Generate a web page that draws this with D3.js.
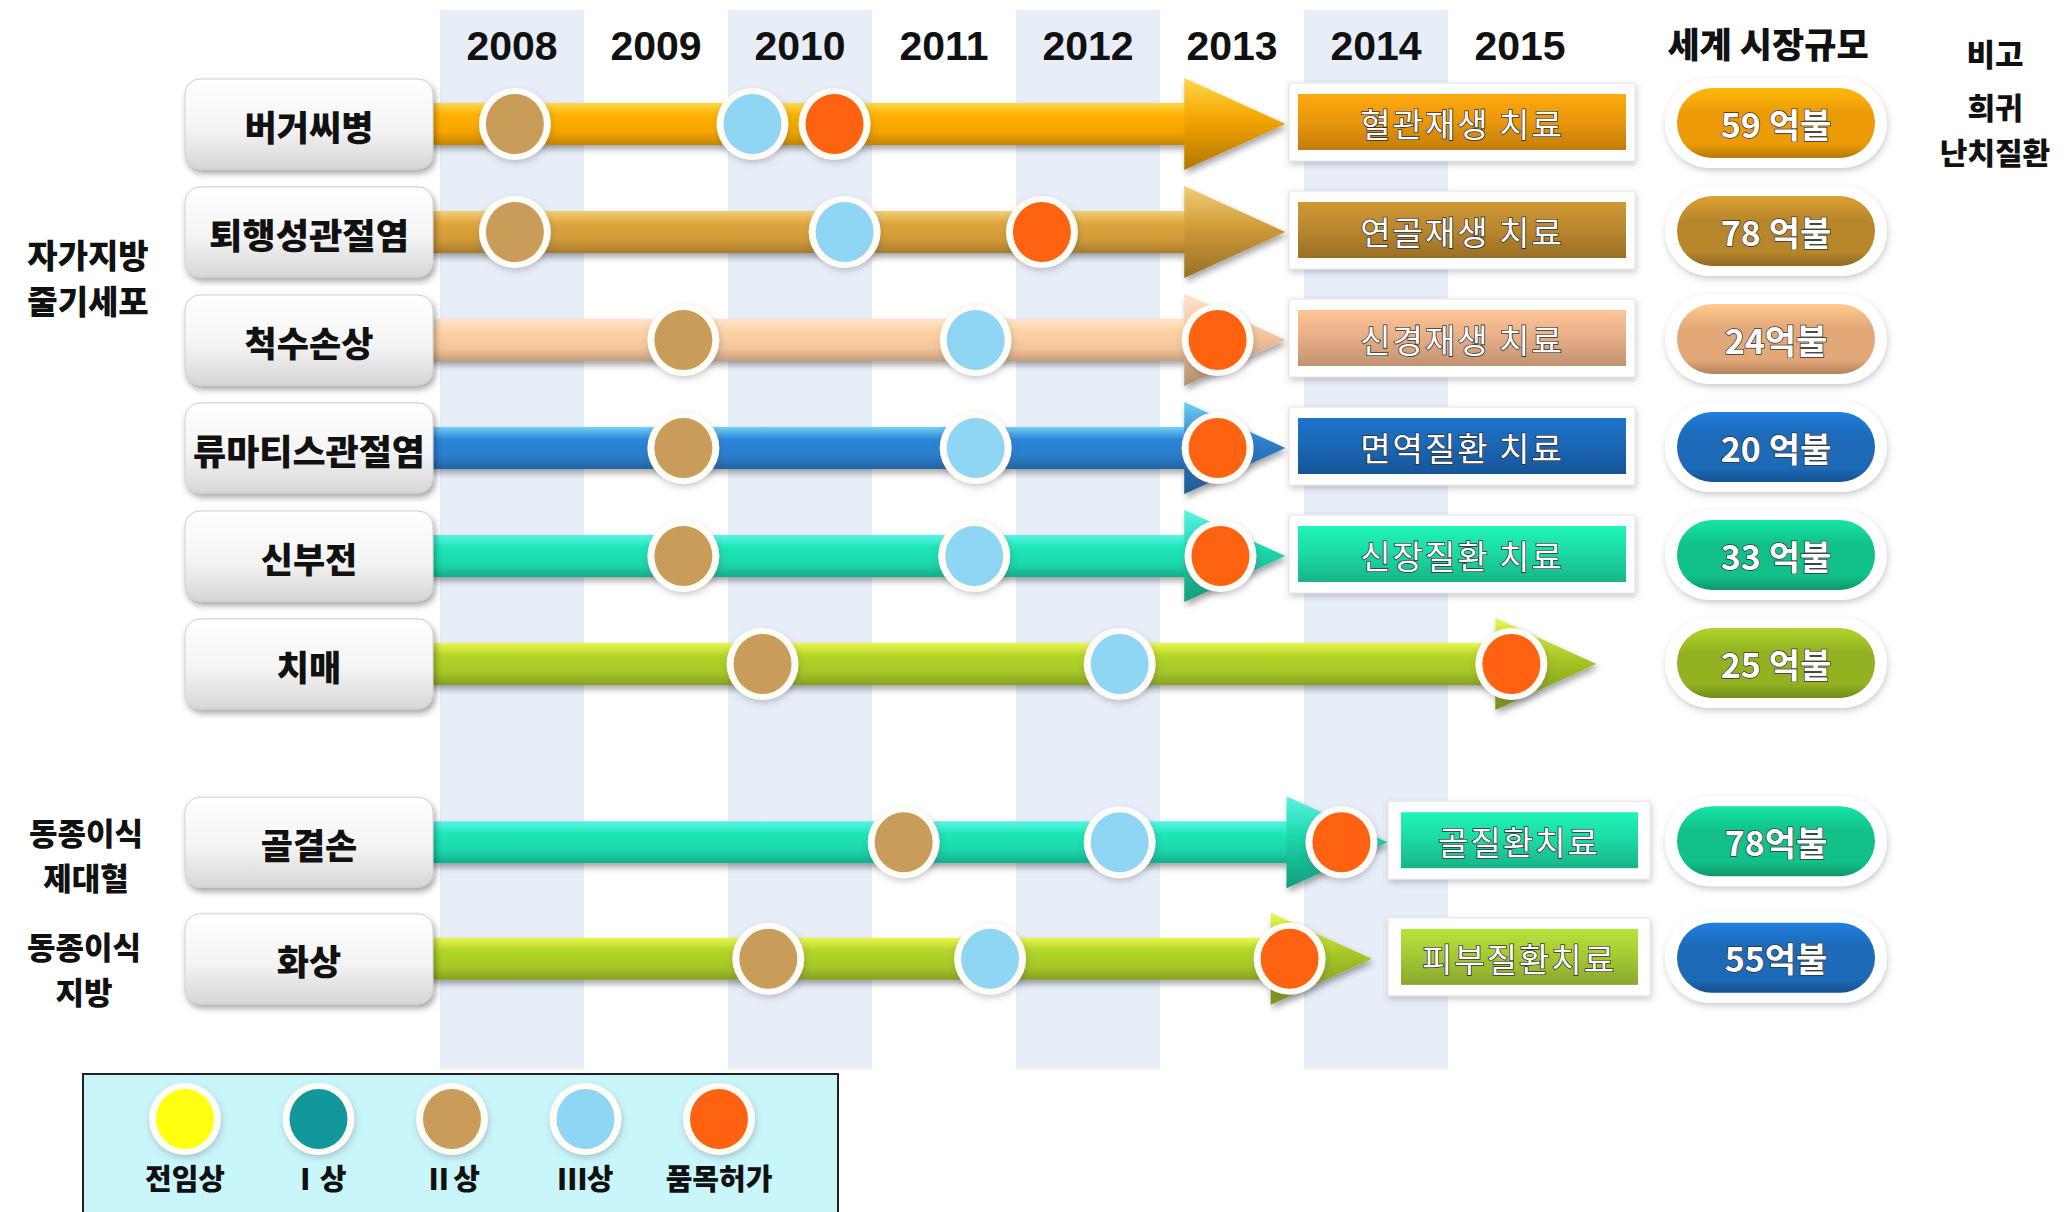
<!DOCTYPE html>
<html><head><meta charset="utf-8">
<script src="https://cdn.jsdelivr.net/npm/d3@7"></script>
<style>html,body{margin:0;padding:0;background:#fff;} svg{display:block}</style>
</head><body>
<svg id="chart" width="2069" height="1212"></svg>
<script>
// ---------------- DATA ----------------
const years = [2008, 2009, 2010, 2011, 2012, 2013, 2014, 2015];
const diseases = ['버거씨병', '퇴행성관절염', '척수손상', '류마티스관절염', '신부전', '치매', '골결손', '화상'];
const phase2 = [2008.52, 2008.52, 2009.69, 2009.69, 2009.69, 2010.24, 2011.22, 2010.28];   // Ⅱ상
const phase3 = [2010.17, 2010.81, 2011.72, 2011.72, 2011.71, 2012.72, 2012.72, 2011.82];   // Ⅲ상
const approval = [2010.74, 2012.18, 2013.40, 2013.40, 2013.42, 2015.44, 2014.26, 2013.90]; // 품목허가
const arrowEnd = [2013.87, 2013.87, 2013.87, 2013.87, 2013.87, 2016.03, 2014.58, 2014.47];
const treatments = ['혈관재생 치료', '연골재생 치료', '신경재생 치료', '면역질환 치료', '신장질환 치료', '', '골질환치료', '피부질환치료'];
const marketSize = ['59 억불', '78 억불', '24억불', '20 억불', '33 억불', '25 억불', '78억불', '55억불'];
const sourceLabels = [['자가지방', '줄기세포'], ['동종이식', '제대혈'], ['동종이식', '지방']];
const phases = ['전임상', 'Ⅰ상', 'Ⅱ상', 'Ⅲ상', '품목허가'];
const headerMarket = '세계 시장규모';
const headerNote = ['비고', ['희귀', '난치질환']];

// ---------------- STYLE ----------------
const phaseColors = ['#ffff10', '#12989a', '#c99c5a', '#8fd6f5', '#ff6210'];
const rowPalette = [
  {bar: '#f4a400', hi: '#ffd84a', box: '#e8960c', pill: '#ec9a08'},
  {bar: '#d09a38', hi: '#f2cf78', box: '#b8862e', pill: '#b8862a'},
  {bar: '#f4c49a', hi: '#fde4cc', box: '#e6ae86', pill: '#e2a878'},
  {bar: '#2a7cca', hi: '#6fd0f4', box: '#1a66b4', pill: '#1c6ab8'},
  {bar: '#1cd6aa', hi: '#5af4e4', box: '#1cd8a2', pill: '#12c08a'},
  {bar: '#a6c626', hi: '#eaf650', box: '#a0c830', pill: '#92b222'},
  {bar: '#1cd6aa', hi: '#5af4e4', box: '#1cd8a2', pill: '#12c08a'},
  {bar: '#a6c626', hi: '#eaf650', box: '#a4c834', pill: '#1c6ab8'}
];
const KR = "'Noto Sans CJK KR', 'Noto Sans', sans-serif";

const svg = d3.select('#chart');
const defs = svg.append('defs');

const sh = defs.append('filter').attr('id', 'shadow').attr('x', '-20%').attr('y', '-30%').attr('width', '140%').attr('height', '170%');
sh.append('feDropShadow').attr('dx', 2).attr('dy', 4).attr('stdDeviation', 3).attr('flood-color', '#000').attr('flood-opacity', 0.35);
const sh2 = defs.append('filter').attr('id', 'soft').attr('x', '-20%').attr('y', '-30%').attr('width', '140%').attr('height', '170%');
sh2.append('feDropShadow').attr('dx', 1).attr('dy', 3).attr('stdDeviation', 3).attr('flood-color', '#556').attr('flood-opacity', 0.3);

function vgrad(id, stops) {
  const g = defs.append('linearGradient').attr('id', id).attr('x1', 0).attr('y1', 0).attr('x2', 0).attr('y2', 1);
  stops.forEach(([o, c]) => g.append('stop').attr('offset', o).attr('stop-color', c));
  return `url(#${id})`;
}
const boxFill = vgrad('boxg', [[0, '#ffffff'], [0.55, '#f4f4f4'], [1, '#d6d6d6']]);

// ---------------- SCALES ----------------
const x = d3.scaleLinear().domain([2008, 2016]).range([440, 1592]);
const y = d3.scaleLinear().domain([0, 1]).range([124, 232]);
const slot = i => i + (i >= 6 ? 0.65 : 0) + (i >= 7 ? 0.08 : 0);
const rowY = i => y(slot(i));
const legendX = d3.scalePoint().domain(phases).range([185, 719]);

// ---------------- BANDS ----------------
svg.append('g').selectAll('rect').data(years.filter((d, i) => i % 2 === 0)).join('rect')
  .attr('x', d => x(d)).attr('width', d => x(d + 1) - x(d))
  .attr('y', 10).attr('height', 1059).attr('fill', '#e7eef8');

// year labels
svg.append('g').selectAll('text').data(years).join('text')
  .attr('x', d => x(d + 0.5)).attr('y', 46)
  .attr('text-anchor', 'middle').attr('dominant-baseline', 'central')
  .attr('font-family', "'Liberation Sans', Arial, sans-serif").attr('font-weight', 700)
  .attr('font-size', 41).attr('fill', '#111').text(d => d);

// headers
svg.append('text').attr('x', 1768).attr('y', 42).attr('text-anchor', 'middle').attr('dominant-baseline', 'central')
  .attr('font-family', KR).attr('font-weight', 900).attr('font-size', 35).attr('fill', '#111').text(headerMarket);
svg.append('text').attr('x', 1995).attr('y', 52).attr('text-anchor', 'middle').attr('dominant-baseline', 'central')
  .attr('font-family', KR).attr('font-weight', 900).attr('font-size', 31).attr('fill', '#111').text(headerNote[0]);
const note2 = svg.append('text').attr('text-anchor', 'middle')
  .attr('font-family', KR).attr('font-weight', 900).attr('font-size', 30).attr('fill', '#111');
note2.selectAll('tspan').data(headerNote[1]).join('tspan')
  .attr('x', 1995).attr('y', (d, k) => 106 + k * 45).attr('dominant-baseline', 'central').text(d => d);

// source group labels (one text element per group, one tspan per line)
const srcCenter = [y(1.42), rowY(6) + 12, rowY(7) + 9];
const srcGap = [46, 45, 45];
const srcSize = [33, 31, 31];
const srcX = [88, 86, 84];
sourceLabels.forEach((lines, g) => {
  const t = svg.append('text').attr('text-anchor', 'middle')
    .attr('font-family', KR).attr('font-weight', 900).attr('font-size', srcSize[g]).attr('fill', '#111');
  t.selectAll('tspan').data(lines).join('tspan')
    .attr('x', srcX[g]).attr('y', (d, k) => srcCenter[g] + (k - 0.5) * srcGap[g])
    .attr('dominant-baseline', 'central').text(d => d);
});

// ---------------- ARROWS ----------------
const rows = diseases.map((d, i) => ({i, name: d}));
const barHalf = 21, headHalf = 46, headLen = 100, x0 = 425;
rows.forEach(r => {
  const p = rowPalette[r.i];
  const c = d3.color(p.bar);
  r.barFill = vgrad('bar' + r.i, [[0, p.hi], [0.3, c.brighter(0.2)], [0.7, p.bar], [1, c.darker(0.6)]]);
  r.headFill = vgrad('head' + r.i, [[0, p.hi], [0.45, p.bar], [1, c.darker(0.9)]]);
});
const arrows = svg.append('g').selectAll('g').data(rows).join('g').attr('filter', 'url(#shadow)');
arrows.append('path').attr('fill', r => r.barFill)
  .attr('d', r => {
    const cy = rowY(r.i), tip = x(arrowEnd[r.i]), hb = tip - headLen;
    return `M${x0},${cy - barHalf}L${hb},${cy - barHalf}L${hb},${cy + barHalf}L${x0},${cy + barHalf}Z`;
  });
arrows.append('path').attr('fill', r => r.headFill)
  .attr('d', r => {
    const cy = rowY(r.i), tip = x(arrowEnd[r.i]), hb = tip - headLen;
    return `M${hb - 1},${cy - headHalf}L${tip},${cy}L${hb - 1},${cy + headHalf}Z`;
  });

// ---------------- LABEL BOXES ----------------
const lb = svg.append('g').selectAll('g').data(rows).join('g');
lb.append('rect').attr('x', 185).attr('y', r => rowY(r.i) - 45).attr('width', 248).attr('height', 90)
  .attr('rx', 15).attr('fill', boxFill).attr('stroke', '#cfcfcf').attr('stroke-width', 1).attr('filter', 'url(#shadow)');
lb.append('text').attr('x', 309).attr('y', r => rowY(r.i) + 1)
  .attr('text-anchor', 'middle').attr('dominant-baseline', 'central')
  .attr('font-family', KR).attr('font-weight', 900).attr('font-size', 35)
  .attr('textLength', r => r.name.length > 5 ? (r.name.length > 6 ? 232 : 200) : null).attr('lengthAdjust', 'spacingAndGlyphs')
  .attr('fill', '#111').text(r => r.name);

// ---------------- RESULT BOXES ----------------
const res = rows.filter(r => treatments[r.i]);
const rg = svg.append('g').selectAll('g').data(res).join('g');
const wide = r => r.i < 6;
rg.append('rect')
  .attr('x', r => wide(r) ? 1289 : 1388).attr('width', r => wide(r) ? 346 : 262)
  .attr('y', r => rowY(r.i) - 41).attr('height', 78)
  .attr('fill', '#fff').attr('stroke', '#e4e4e4').attr('filter', 'url(#soft)');
rg.each(function(r) {
  const p = rowPalette[r.i], c = d3.color(p.box);
  r.boxG = vgrad('res' + r.i, [[0, c.brighter(0.35)], [0.5, p.box], [1, c.darker(0.5)]]);
});
rg.append('rect')
  .attr('x', r => wide(r) ? 1298 : 1401).attr('width', r => wide(r) ? 328 : 237)
  .attr('y', r => rowY(r.i) - 30).attr('height', 56).attr('fill', r => r.boxG);
rg.append('text')
  .attr('x', r => wide(r) ? 1462 : 1519).attr('y', r => rowY(r.i) - 1)
  .attr('text-anchor', 'middle').attr('dominant-baseline', 'central')
  .attr('font-family', KR).attr('font-weight', 400).attr('font-size', 33).attr('letter-spacing', 2)
  .attr('fill', '#fff').attr('stroke', '#333').attr('stroke-width', 1.6).attr('paint-order', 'stroke')
  .text(r => treatments[r.i]);

// ---------------- MILESTONE CIRCLES ----------------
const ms = [];
rows.forEach(r => {
  ms.push({i: r.i, v: phase2[r.i], c: phaseColors[2]});
  ms.push({i: r.i, v: phase3[r.i], c: phaseColors[3]});
  ms.push({i: r.i, v: approval[r.i], c: phaseColors[4]});
});
const mg = svg.append('g').selectAll('g').data(ms).join('g');
mg.append('ellipse').attr('cx', d => x(d.v)).attr('cy', d => rowY(d.i))
  .attr('rx', 36).attr('ry', 36).attr('fill', '#fffdf6').attr('filter', 'url(#soft)');
mg.append('ellipse').attr('cx', d => x(d.v)).attr('cy', d => rowY(d.i))
  .attr('rx', 29).attr('ry', 30).attr('fill', d => d.c);

// ---------------- MARKET PILLS ----------------
const pg = svg.append('g').selectAll('g').data(rows).join('g');
pg.append('rect').attr('x', 1776 - 111).attr('width', 222).attr('y', r => rowY(r.i) - 46).attr('height', 90)
  .attr('rx', 45).attr('fill', '#fff').attr('filter', 'url(#soft)');
rows.forEach(r => {
  const p = rowPalette[r.i], c = d3.color(p.pill);
  r.pillG = vgrad('pill' + r.i, [[0, c.brighter(0.5)], [0.35, p.pill], [0.8, p.pill], [1, c.darker(0.7)]]);
});
pg.append('rect').attr('x', 1776 - 99).attr('width', 198).attr('y', r => rowY(r.i) - 36).attr('height', 70)
  .attr('rx', 35).attr('fill', r => r.pillG);
pg.append('text').attr('x', 1776).attr('y', r => rowY(r.i) - 1)
  .attr('text-anchor', 'middle').attr('dominant-baseline', 'central')
  .attr('font-family', KR).attr('font-weight', 700).attr('font-size', 34)
  .attr('fill', '#fff').attr('stroke', '#333').attr('stroke-width', 1.4).attr('paint-order', 'stroke')
  .text(r => marketSize[r.i]);

// ---------------- LEGEND ----------------
const lg = svg.append('g');
lg.append('rect').attr('x', 83).attr('y', 1074).attr('width', 755).attr('height', 170)
  .attr('fill', '#c9f6fa').attr('stroke', '#222').attr('stroke-width', 2);
const li = lg.selectAll('g').data(phases).join('g');
li.append('ellipse').attr('cx', d => legendX(d)).attr('cy', 1119).attr('rx', 36).attr('ry', 36)
  .attr('fill', '#fffdf6').attr('filter', 'url(#soft)');
li.append('ellipse').attr('cx', d => legendX(d)).attr('cy', 1119).attr('rx', 29).attr('ry', 30)
  .attr('fill', (d, k) => phaseColors[k]);
li.append('text').attr('x', d => legendX(d)).attr('y', 1177)
  .attr('text-anchor', 'middle').attr('dominant-baseline', 'central')
  .attr('font-family', KR).attr('font-weight', 900).attr('font-size', 29).attr('fill', '#111').text(d => d);
</script>
</body></html>
